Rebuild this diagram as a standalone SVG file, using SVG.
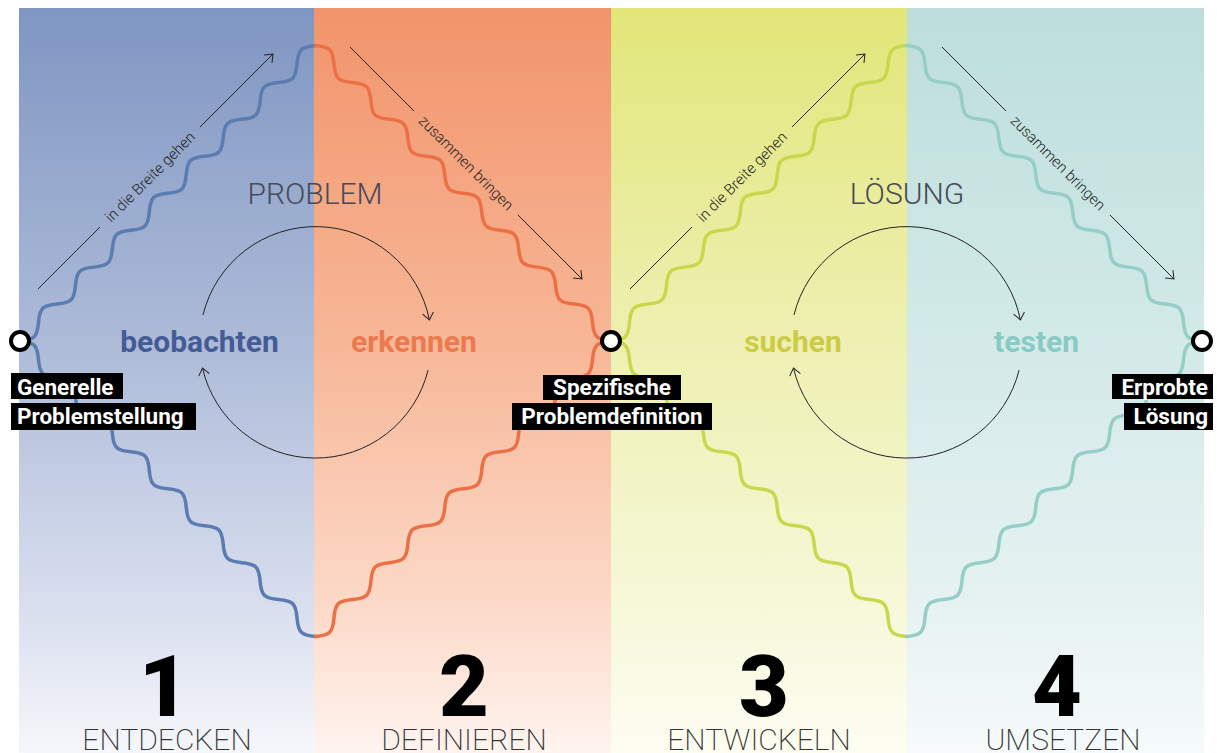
<svg xmlns="http://www.w3.org/2000/svg" xmlns:xlink="http://www.w3.org/1999/xlink" width="1217" height="753" viewBox="0 0 1217 753">
<defs>
<style>
.wv{fill:none;stroke-width:3.5;stroke-linecap:round}
.thin{fill:none;stroke:#222;stroke-width:1}
.along{font-family:Roboto,"Liberation Sans",sans-serif;font-size:15px;font-weight:300;fill:#222}
.big{font-family:Roboto,"Liberation Sans",sans-serif;font-size:30px;font-weight:700;text-anchor:middle}
.head{font-family:Roboto,"Liberation Sans",sans-serif;font-size:30px;font-weight:300;fill:#474a58;text-anchor:middle}
.lbl{font-family:Roboto,"Liberation Sans",sans-serif;font-size:22.5px;font-weight:700;fill:#fff}
.num{font-family:Roboto,"Liberation Sans",sans-serif;font-size:86px;font-weight:900;fill:#000;text-anchor:middle}
.phase{font-family:Roboto,"Liberation Sans",sans-serif;font-size:30px;font-weight:200;fill:#333;text-anchor:middle}
.node{fill:#fff;stroke:#000;stroke-width:4}
</style>
<linearGradient id="gB" x1="0" y1="0" x2="0" y2="1"><stop offset="0" stop-color="#7f96c2"/><stop offset="0.45" stop-color="#adbbd8"/><stop offset="0.8" stop-color="#d8deee"/><stop offset="1" stop-color="#f6f7fb"/></linearGradient>
<linearGradient id="gO" x1="0" y1="0" x2="0" y2="1"><stop offset="0" stop-color="#f2946b"/><stop offset="0.45" stop-color="#f7b797"/><stop offset="0.8" stop-color="#fcd9c8"/><stop offset="1" stop-color="#fff4ef"/></linearGradient>
<linearGradient id="gY" x1="0" y1="0" x2="0" y2="1"><stop offset="0" stop-color="#e2e679"/><stop offset="0.45" stop-color="#eef0b2"/><stop offset="0.8" stop-color="#f6f8d8"/><stop offset="1" stop-color="#fdfdf2"/></linearGradient>
<linearGradient id="gT" x1="0" y1="0" x2="0" y2="1"><stop offset="0" stop-color="#bcdedb"/><stop offset="0.45" stop-color="#d3eae8"/><stop offset="0.8" stop-color="#e6f2f2"/><stop offset="1" stop-color="#f6fafa"/></linearGradient>
<path id="wave" d="M0,0 c11.085,9.33 15.035,9.33 26.12,0 c11.085,-9.33 15.035,-9.33 26.12,0 c11.085,9.33 15.035,9.33 26.12,0 c11.085,-9.33 15.035,-9.33 26.12,0 c11.085,9.33 15.035,9.33 26.12,0 c11.085,-9.33 15.035,-9.33 26.12,0 c11.085,9.33 15.035,9.33 26.12,0 c11.085,-9.33 15.035,-9.33 26.12,0 c11.085,9.33 15.035,9.33 26.12,0 c11.085,-9.33 15.035,-9.33 26.12,0 c11.085,9.33 15.035,9.33 26.12,0 c11.085,-9.33 15.035,-9.33 26.12,0 c11.085,9.33 15.035,9.33 26.12,0 c11.085,-9.33 15.035,-9.33 26.12,0 c11.085,9.33 15.035,9.33 26.12,0 c11.085,-9.33 15.035,-9.33 26.12,0"/>
<marker id="ah" markerUnits="userSpaceOnUse" markerWidth="14" markerHeight="14" refX="11" refY="7" orient="auto"><path d="M4,1.5 L11,7 L4,12.5" fill="none" stroke="#222" stroke-width="1"/></marker>
</defs>
<rect width="1217" height="753" fill="#fff"/>
<g id="background">
<rect x="19" y="8" width="296" height="745" fill="url(#gB)"/>
<rect x="314" y="8" width="298" height="745" fill="url(#gO)"/>
<rect x="611" y="8" width="297" height="745" fill="url(#gY)"/>
<rect x="907" y="8" width="297" height="745" fill="url(#gT)"/>
</g>
<g id="diamond-problem">
<g class="wv" stroke="#5b7cb0"><use href="#wave" transform="translate(20,341) rotate(-45)"/><use href="#wave" transform="translate(20,341) rotate(45) scale(1,-1)"/></g>
<g class="wv" stroke="#ec7045" transform="translate(631,0) scale(-1,1)"><use href="#wave" transform="translate(20,341) rotate(-45)"/><use href="#wave" transform="translate(20,341) rotate(45) scale(1,-1)"/></g>
</g>
<g id="diamond-loesung" transform="translate(591,0)">
<g class="wv" stroke="#c8d84c"><use href="#wave" transform="translate(20,341) rotate(-45)"/><use href="#wave" transform="translate(20,341) rotate(45) scale(1,-1)"/></g>
<g class="wv" stroke="#94cec7" transform="translate(631,0) scale(-1,1)"><use href="#wave" transform="translate(20,341) rotate(-45)"/><use href="#wave" transform="translate(20,341) rotate(45) scale(1,-1)"/></g>
</g>
<g id="connectors">
<line class="thin" x1="38" y1="289" x2="100" y2="227"/>
<line class="thin" x1="200" y1="127" x2="273" y2="54" marker-end="url(#ah)"/>
<line class="thin" x1="350" y1="47" x2="414" y2="111"/>
<line class="thin" x1="518" y1="215" x2="582" y2="279" marker-end="url(#ah)"/>
<line class="thin" x1="630" y1="289" x2="692" y2="227"/>
<line class="thin" x1="792" y1="127" x2="865" y2="54" marker-end="url(#ah)"/>
<line class="thin" x1="942" y1="47" x2="1006" y2="111"/>
<line class="thin" x1="1110" y1="215" x2="1174" y2="279" marker-end="url(#ah)"/>
<path class="thin" d="M203,314.9 A116,116 0 0 1 429.4,319.9" marker-end="url(#ah)"/>
<path class="thin" d="M428.1,370.1 A116,116 0 0 1 202.5,368.1" marker-end="url(#ah)"/>
<path class="thin" d="M794,314.9 A116,116 0 0 1 1020.4,319.9" marker-end="url(#ah)"/>
<path class="thin" d="M1019.1,370.1 A116,116 0 0 1 793.5,368.1" marker-end="url(#ah)"/>
<text class="along" text-anchor="middle" dominant-baseline="central" transform="translate(150,177) rotate(-45)">in die Breite gehen</text>
<text class="along" text-anchor="middle" dominant-baseline="central" transform="translate(466,163) rotate(45)">zusammen bringen</text>
<text class="along" text-anchor="middle" dominant-baseline="central" transform="translate(742,177) rotate(-45)">in die Breite gehen</text>
<text class="along" text-anchor="middle" dominant-baseline="central" transform="translate(1058,163) rotate(45)">zusammen bringen</text>
</g>
<g id="title-problem"><text class="head" x="315" y="204">PROBLEM</text></g>
<g id="title-loesung"><text class="head" x="907" y="204">LÖSUNG</text></g>
<g id="beobachten"><text class="big" x="199.5" y="352" fill="#445c96">beobachten</text></g>
<g id="erkennen"><text class="big" x="414" y="352" fill="#eb7a50">erkennen</text></g>
<g id="suchen"><text class="big" x="793" y="352" fill="#cccb45">suchen</text></g>
<g id="testen"><text class="big" x="1036.5" y="352" fill="#88cac4">testen</text></g>
<g id="start-node"><circle class="node" cx="20" cy="341" r="9"/>
<rect x="11" y="373" width="112" height="26" fill="#000"/><text class="lbl" x="17" y="395">Generelle</text>
<rect x="11" y="403" width="185" height="27" fill="#000"/><text class="lbl" x="17" y="424">Problemstellung</text></g>
<g id="mid-node"><circle class="node" cx="611" cy="341" r="9"/>
<rect x="543" y="375" width="138" height="25" fill="#000"/><text class="lbl" x="612" y="395" text-anchor="middle">Spezifische</text>
<rect x="512" y="403" width="200" height="27" fill="#000"/><text class="lbl" x="612" y="424" text-anchor="middle">Problemdefinition</text></g>
<g id="end-node"><circle class="node" cx="1202" cy="341" r="9"/>
<rect x="1112" y="374" width="101" height="25" fill="#000"/><text class="lbl" x="1208" y="395" text-anchor="end">Erprobte</text>
<rect x="1124" y="403" width="89" height="27" fill="#000"/><text class="lbl" x="1208" y="424" text-anchor="end">Lösung</text></g>
<g id="phase-1"><text class="num" x="164" y="716">1</text><text class="phase" x="167" y="750">ENTDECKEN</text></g>
<g id="phase-2"><text class="num" x="464" y="716">2</text><text class="phase" x="464" y="750">DEFINIEREN</text></g>
<g id="phase-3"><text class="num" x="764" y="716">3</text><text class="phase" x="759" y="750">ENTWICKELN</text></g>
<g id="phase-4"><text class="num" x="1057" y="716">4</text><text class="phase" x="1063" y="750">UMSETZEN</text></g>
</svg>
